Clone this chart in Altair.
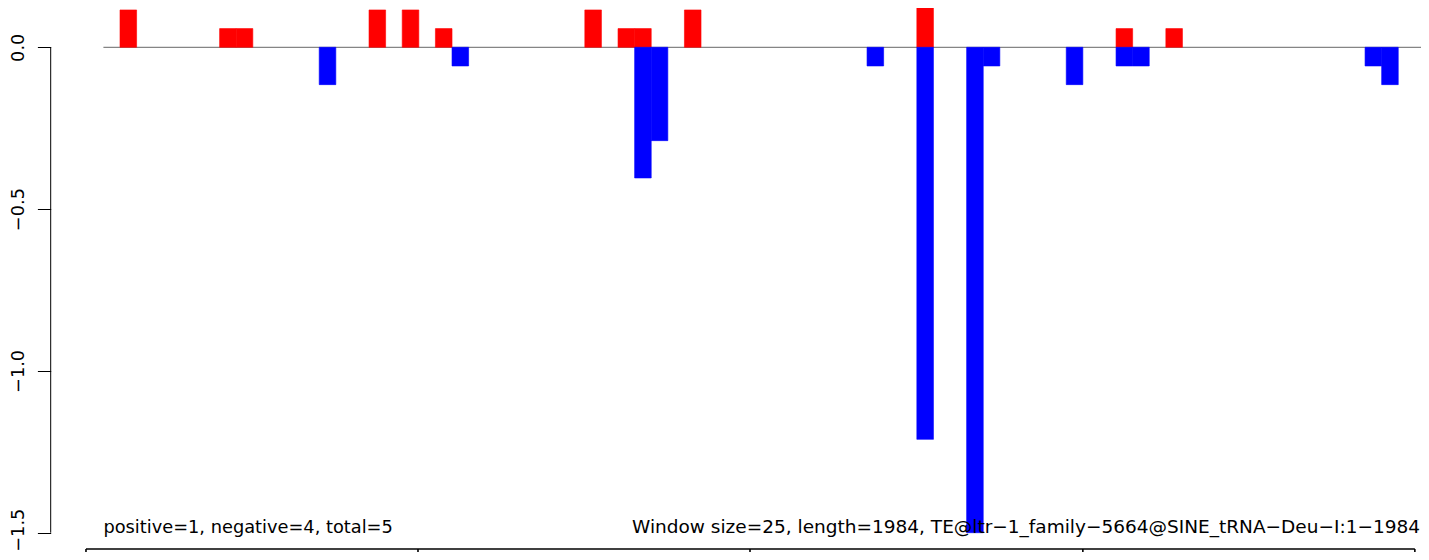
import altair as alt
import pandas as pd

# ---- data (bin index of 25-bp windows, values) ----
pos_bins = [1, 7, 8, 16, 18, 20, 29, 31, 32, 35, 49, 61, 64]
pos_vals = [0.1154, 0.0577, 0.0577, 0.1154, 0.1154, 0.0577, 0.1154, 0.0577,
            0.0577, 0.1154, 0.1731, 0.0577, 0.0577]
neg_bins = [13, 21, 32, 33, 46, 49, 52, 53, 58, 61, 62, 76, 77]
neg_vals = [-0.1154, -0.0577, -0.4038, -0.2885, -0.0577, -1.2115, -1.5,
            -0.0577, -0.1154, -0.0577, -0.0577, -0.0577, -0.1154]
y_ticks = [0.0, -0.5, -1.0, -1.5]
n_bins = 80
left_label = "positive=1, negative=4, total=5"
right_label = "Window size=25, length=1984, TE@ltr\u22121_family\u22125664@SINE_tRNA\u2212Deu\u2212I:1\u22121984"
track_edges = [-1.05, 18.95, 38.95, 59.0, 79.0]
track_y = -1.5504

FONT = "DejaVu Sans"
FS = 17.8

X_MIN, X_MAX = -3.175, 79.37
Y_MIN, Y_MAX = -1.5596, 0.1214

xs = alt.Scale(domain=[X_MIN, X_MAX], nice=False, zero=False)
ys = alt.Scale(domain=[Y_MIN, Y_MAX], nice=False, zero=False)
yax = alt.Axis(values=y_ticks, format=".1f", domain=False, grid=False,
               ticks=True, tickSize=13.3, tickColor="black", tickWidth=1,
               labelAngle=270, labelAlign="center", labelBaseline="alphabetic",
               labelPadding=14.4, labelFont=FONT, labelFontSize=FS,
               labelOffset={"condition": {"test": "datum.value <= -1.5", "value": -3}, "value": 0},
               labelColor="black", labelOverlap=False, title=None)

bars = pd.DataFrame({
    "bin": pos_bins + neg_bins,
    "value": pos_vals + neg_vals,
    "sign": ["pos"] * len(pos_bins) + ["neg"] * len(neg_bins),
})
bars["bin_end"] = bars["bin"] + 1
bars["zero"] = 0.0

sign_scale = alt.Scale(domain=["pos", "neg"], range=["#ff0000", "#0000ff"])

base_df = pd.DataFrame({"x": [0], "x2": [n_bins], "y": [0.0]})
baseline = alt.Chart(base_df).mark_rule(color="#858585", strokeWidth=1.2, clip=True).encode(
    x=alt.X("x:Q", scale=xs, axis=None),
    x2="x2:Q",
    y=alt.Y("y:Q", scale=ys, axis=yax),
)

bar_layer = alt.Chart(bars).mark_rect(clip=True, strokeWidth=0.6).encode(
    x=alt.X("bin:Q", scale=xs, axis=None),
    x2="bin_end:Q",
    y=alt.Y("value:Q", scale=ys, axis=yax),
    y2="zero:Q",
    color=alt.Color("sign:N", scale=sign_scale, legend=None),
    stroke=alt.Stroke("sign:N", scale=sign_scale, legend=None),
)

yline_df = pd.DataFrame({"y": [y_ticks[0]], "y2": [y_ticks[-1]]})
yline = alt.Chart(yline_df).mark_rule(color="black", strokeWidth=1).encode(
    x=alt.value(0),
    y=alt.Y("y:Q", scale=ys, axis=yax),
    y2="y2:Q",
)

track_h_df = pd.DataFrame({"x": [track_edges[0]], "x2": [track_edges[-1]], "y": [track_y]})
track_h = alt.Chart(track_h_df).mark_rule(color="black", strokeWidth=1.6).encode(
    x=alt.X("x:Q", scale=xs, axis=None),
    x2="x2:Q",
    y=alt.Y("y:Q", scale=ys, axis=yax),
)
track_v_df = pd.DataFrame({"x": track_edges, "y": [track_y] * len(track_edges), "y2": [Y_MIN] * len(track_edges)})
track_v = alt.Chart(track_v_df).mark_rule(color="black", strokeWidth=1.6).encode(
    x=alt.X("x:Q", scale=xs, axis=None),
    y=alt.Y("y:Q", scale=ys, axis=yax),
    y2="y2:Q",
)

txt_df = pd.DataFrame({"x": [0.0], "y": [-1.5], "t": [left_label]})
txt_left = alt.Chart(txt_df).mark_text(align="left", baseline="alphabetic", font=FONT, fontSize=FS, color="black").encode(
    x=alt.X("x:Q", scale=xs, axis=None),
    y=alt.Y("y:Q", scale=ys, axis=yax),
    text="t:N",
)
txt_df2 = pd.DataFrame({"x": [X_MAX], "y": [-1.5], "t": [right_label]})
txt_right = alt.Chart(txt_df2).mark_text(align="right", baseline="alphabetic", font=FONT, fontSize=18.5, color="black", dx=-1).encode(
    x=alt.X("x:Q", scale=xs, axis=None),
    y=alt.Y("y:Q", scale=ys, axis=yax),
    text="t:N",
)

chart = alt.layer(baseline, bar_layer, yline, track_h, track_v, txt_left, txt_right).properties(
    width=1370.3,
    height=544,
    autosize=alt.AutoSizeParams(type="none"),
    padding={"left": 42.7, "top": 0, "right": 0, "bottom": 0},
    background="white",
).configure_view(stroke=None)

chart.save("out.html", embed_options={"renderer": "svg", "actions": False})
